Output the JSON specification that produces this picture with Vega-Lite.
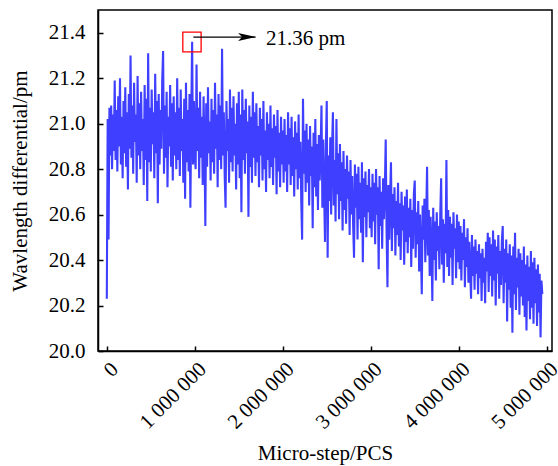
{
  "$schema": "https://vega.github.io/schema/vega-lite/v6.json",
  "width": 454,
  "height": 341,
  "autosize": {"type": "none"},
  "padding": {"left": 98, "top": 10, "right": 6, "bottom": 115},
  "background": "white",
  "config": {
    "font": "Liberation Serif",
    "view": {"stroke": "black", "strokeWidth": 1.5},
    "axis": {
      "grid": false,
      "domainColor": "black",
      "domainWidth": 1.5,
      "tickColor": "black",
      "tickWidth": 1.5,
      "tickSize": -5,
      "labelColor": "black",
      "labelFont": "Liberation Serif",
      "labelFontSize": 21,
      "titleColor": "black",
      "titleFont": "Liberation Serif",
      "titleFontSize": 21,
      "titleFontWeight": "normal",
      "labelOverlap": false,
      "labelFlush": false
    }
  },
  "layer": [
    {
      "data": {"values": [
{"x":0,"y":20.23},{"x":10000,"y":21.02},{"x":20000,"y":20.49},{"x":30000,"y":21.07},{"x":40000,"y":20.86},{"x":50000,"y":21.08},{"x":60000,"y":20.80},{"x":70000,"y":21.04},{"x":80000,"y":20.88},{"x":90000,"y":21.19},
{"x":100000,"y":20.84},{"x":110000,"y":21.06},{"x":120000,"y":20.79},{"x":130000,"y":21.12},{"x":140000,"y":20.90},{"x":150000,"y":21.20},{"x":160000,"y":20.82},{"x":170000,"y":21.03},{"x":180000,"y":20.76},{"x":190000,"y":21.10},
{"x":200000,"y":20.87},{"x":210000,"y":21.16},{"x":220000,"y":20.81},{"x":230000,"y":21.05},{"x":240000,"y":20.71},{"x":250000,"y":21.13},{"x":260000,"y":20.89},{"x":270000,"y":21.30},{"x":280000,"y":20.85},{"x":290000,"y":21.08},
{"x":300000,"y":20.78},{"x":310000,"y":21.18},{"x":320000,"y":20.92},{"x":330000,"y":21.04},{"x":340000,"y":20.74},{"x":350000,"y":21.21},{"x":360000,"y":20.86},{"x":370000,"y":21.09},{"x":380000,"y":20.80},{"x":390000,"y":21.14},
{"x":400000,"y":20.88},{"x":410000,"y":21.02},{"x":420000,"y":20.73},{"x":430000,"y":21.17},{"x":440000,"y":20.84},{"x":450000,"y":21.11},{"x":460000,"y":20.66},{"x":470000,"y":21.31},{"x":480000,"y":20.83},{"x":490000,"y":21.07},
{"x":500000,"y":20.79},{"x":510000,"y":21.15},{"x":520000,"y":20.91},{"x":530000,"y":21.05},{"x":540000,"y":20.76},{"x":550000,"y":21.22},{"x":560000,"y":20.87},{"x":570000,"y":21.10},{"x":580000,"y":20.65},{"x":590000,"y":21.13},
{"x":600000,"y":20.82},{"x":610000,"y":21.06},{"x":620000,"y":20.89},{"x":630000,"y":21.19},{"x":640000,"y":21.32},{"x":650000,"y":20.78},{"x":660000,"y":21.08},{"x":670000,"y":20.85},{"x":680000,"y":21.14},{"x":690000,"y":20.72},
{"x":700000,"y":21.03},{"x":710000,"y":20.90},{"x":720000,"y":21.17},{"x":730000,"y":20.81},{"x":740000,"y":21.09},{"x":750000,"y":20.75},{"x":760000,"y":21.12},{"x":770000,"y":20.86},{"x":780000,"y":21.05},{"x":790000,"y":20.80},
{"x":800000,"y":21.20},{"x":810000,"y":20.84},{"x":820000,"y":21.07},{"x":830000,"y":20.77},{"x":840000,"y":21.15},{"x":850000,"y":20.88},{"x":860000,"y":21.02},{"x":870000,"y":20.74},{"x":880000,"y":21.11},{"x":890000,"y":20.67},
{"x":900000,"y":21.18},{"x":910000,"y":20.83},{"x":920000,"y":21.06},{"x":930000,"y":20.79},{"x":940000,"y":21.13},{"x":950000,"y":20.63},{"x":960000,"y":21.04},{"x":970000,"y":21.36},{"x":980000,"y":20.82},{"x":990000,"y":21.10},
{"x":1000000,"y":20.86},{"x":1010000,"y":20.80},{"x":1020000,"y":21.26},{"x":1030000,"y":20.88},{"x":1040000,"y":21.07},{"x":1050000,"y":20.76},{"x":1060000,"y":21.14},{"x":1070000,"y":20.85},{"x":1080000,"y":21.03},{"x":1090000,"y":20.73},
{"x":1100000,"y":21.12},{"x":1110000,"y":20.90},{"x":1120000,"y":20.55},{"x":1130000,"y":21.09},{"x":1140000,"y":20.81},{"x":1150000,"y":21.16},{"x":1160000,"y":20.87},{"x":1170000,"y":21.01},{"x":1180000,"y":20.75},{"x":1190000,"y":21.11},
{"x":1200000,"y":20.83},{"x":1210000,"y":21.06},{"x":1220000,"y":20.78},{"x":1230000,"y":21.18},{"x":1240000,"y":20.89},{"x":1250000,"y":21.04},{"x":1260000,"y":20.72},{"x":1270000,"y":21.13},{"x":1280000,"y":20.84},{"x":1290000,"y":21.08},
{"x":1300000,"y":20.80},{"x":1310000,"y":21.33},{"x":1320000,"y":20.86},{"x":1330000,"y":21.05},{"x":1340000,"y":20.77},{"x":1350000,"y":20.63},{"x":1360000,"y":21.10},{"x":1370000,"y":20.88},{"x":1380000,"y":21.02},{"x":1390000,"y":20.74},
{"x":1400000,"y":21.15},{"x":1410000,"y":20.83},{"x":1420000,"y":21.07},{"x":1430000,"y":20.79},{"x":1440000,"y":21.12},{"x":1450000,"y":20.86},{"x":1460000,"y":21.00},{"x":1470000,"y":20.71},{"x":1480000,"y":21.09},{"x":1490000,"y":20.82},
{"x":1500000,"y":21.14},{"x":1510000,"y":20.76},{"x":1520000,"y":21.04},{"x":1530000,"y":20.61},{"x":1540000,"y":21.15},{"x":1550000,"y":20.84},{"x":1560000,"y":21.06},{"x":1570000,"y":20.78},{"x":1580000,"y":21.11},{"x":1590000,"y":20.87},
{"x":1600000,"y":21.01},{"x":1610000,"y":20.59},{"x":1620000,"y":21.08},{"x":1630000,"y":20.81},{"x":1640000,"y":21.03},{"x":1650000,"y":20.74},{"x":1660000,"y":21.14},{"x":1670000,"y":20.85},{"x":1680000,"y":21.05},{"x":1690000,"y":20.77},
{"x":1700000,"y":21.09},{"x":1710000,"y":20.83},{"x":1720000,"y":20.99},{"x":1730000,"y":20.72},{"x":1740000,"y":21.07},{"x":1750000,"y":20.86},{"x":1760000,"y":21.02},{"x":1770000,"y":20.75},{"x":1780000,"y":21.10},{"x":1790000,"y":20.80},
{"x":1800000,"y":20.97},{"x":1810000,"y":20.70},{"x":1820000,"y":21.05},{"x":1830000,"y":20.84},{"x":1840000,"y":21.00},{"x":1850000,"y":20.76},{"x":1860000,"y":21.08},{"x":1870000,"y":20.81},{"x":1880000,"y":20.98},{"x":1890000,"y":20.73},
{"x":1900000,"y":21.04},{"x":1910000,"y":20.85},{"x":1920000,"y":20.99},{"x":1930000,"y":20.69},{"x":1940000,"y":21.06},{"x":1950000,"y":20.79},{"x":1960000,"y":20.96},{"x":1970000,"y":20.72},{"x":1980000,"y":21.03},{"x":1990000,"y":20.82},
{"x":2000000,"y":20.97},{"x":2010000,"y":20.74},{"x":2020000,"y":21.02},{"x":2030000,"y":20.79},{"x":2040000,"y":20.95},{"x":2050000,"y":20.70},{"x":2060000,"y":21.05},{"x":2070000,"y":20.82},{"x":2080000,"y":20.98},{"x":2090000,"y":20.73},
{"x":2100000,"y":21.03},{"x":2110000,"y":20.77},{"x":2120000,"y":20.94},{"x":2130000,"y":20.68},{"x":2140000,"y":21.01},{"x":2150000,"y":20.80},{"x":2160000,"y":20.96},{"x":2170000,"y":20.71},{"x":2180000,"y":21.04},{"x":2190000,"y":20.76},
{"x":2200000,"y":20.92},{"x":2210000,"y":20.66},{"x":2220000,"y":20.49},{"x":2230000,"y":21.11},{"x":2240000,"y":20.78},{"x":2250000,"y":20.97},{"x":2260000,"y":20.70},{"x":2270000,"y":21.00},{"x":2280000,"y":20.74},{"x":2290000,"y":20.93},
{"x":2300000,"y":20.64},{"x":2310000,"y":20.99},{"x":2320000,"y":20.77},{"x":2330000,"y":20.90},{"x":2340000,"y":20.54},{"x":2350000,"y":20.96},{"x":2360000,"y":20.72},{"x":2370000,"y":21.02},{"x":2380000,"y":20.68},{"x":2390000,"y":20.91},
{"x":2400000,"y":20.62},{"x":2410000,"y":20.95},{"x":2420000,"y":20.75},{"x":2430000,"y":20.88},{"x":2440000,"y":21.08},{"x":2450000,"y":20.63},{"x":2460000,"y":20.93},{"x":2470000,"y":20.70},{"x":2480000,"y":20.48},{"x":2490000,"y":20.90},
{"x":2500000,"y":21.10},{"x":2510000,"y":20.41},{"x":2520000,"y":20.86},{"x":2530000,"y":20.66},{"x":2540000,"y":20.94},{"x":2550000,"y":20.60},{"x":2560000,"y":20.89},{"x":2570000,"y":21.05},{"x":2580000,"y":20.64},{"x":2590000,"y":20.84},
{"x":2600000,"y":20.57},{"x":2610000,"y":21.02},{"x":2620000,"y":20.69},{"x":2630000,"y":20.87},{"x":2640000,"y":20.58},{"x":2650000,"y":20.91},{"x":2660000,"y":20.66},{"x":2670000,"y":20.83},{"x":2680000,"y":20.53},{"x":2690000,"y":20.88},
{"x":2700000,"y":20.62},{"x":2710000,"y":20.80},{"x":2720000,"y":20.56},{"x":2730000,"y":20.86},{"x":2740000,"y":20.67},{"x":2750000,"y":20.79},{"x":2760000,"y":20.51},{"x":2770000,"y":20.84},{"x":2780000,"y":20.60},{"x":2790000,"y":20.77},
{"x":2800000,"y":20.55},{"x":2810000,"y":20.41},{"x":2820000,"y":20.82},{"x":2830000,"y":20.63},{"x":2840000,"y":20.78},{"x":2850000,"y":20.49},{"x":2860000,"y":20.81},{"x":2870000,"y":20.58},{"x":2880000,"y":20.74},{"x":2890000,"y":20.52},
{"x":2900000,"y":20.83},{"x":2910000,"y":20.39},{"x":2920000,"y":20.76},{"x":2930000,"y":20.59},{"x":2940000,"y":20.79},{"x":2950000,"y":20.50},{"x":2960000,"y":20.73},{"x":2970000,"y":20.61},{"x":2980000,"y":20.80},{"x":2990000,"y":20.54},
{"x":3000000,"y":20.72},{"x":3010000,"y":20.50},{"x":3020000,"y":20.78},{"x":3030000,"y":20.57},{"x":3040000,"y":20.74},{"x":3050000,"y":20.47},{"x":3060000,"y":20.80},{"x":3070000,"y":20.60},{"x":3080000,"y":20.72},{"x":3090000,"y":20.36},
{"x":3100000,"y":20.77},{"x":3110000,"y":20.55},{"x":3120000,"y":20.70},{"x":3130000,"y":20.45},{"x":3140000,"y":20.76},{"x":3150000,"y":20.58},{"x":3160000,"y":20.71},{"x":3170000,"y":20.93},{"x":3180000,"y":20.52},{"x":3190000,"y":20.28},
{"x":3200000,"y":20.73},{"x":3210000,"y":20.49},{"x":3220000,"y":20.68},{"x":3230000,"y":20.83},{"x":3240000,"y":20.44},{"x":3250000,"y":20.69},{"x":3260000,"y":20.54},{"x":3270000,"y":20.72},{"x":3280000,"y":20.42},{"x":3290000,"y":20.66},
{"x":3300000,"y":20.51},{"x":3310000,"y":20.74},{"x":3320000,"y":20.46},{"x":3330000,"y":20.65},{"x":3340000,"y":20.40},{"x":3350000,"y":20.70},{"x":3360000,"y":20.53},{"x":3370000,"y":20.64},{"x":3380000,"y":20.38},{"x":3390000,"y":20.68},
{"x":3400000,"y":20.48},{"x":3410000,"y":20.71},{"x":3420000,"y":20.43},{"x":3430000,"y":20.63},{"x":3440000,"y":20.50},{"x":3450000,"y":20.67},{"x":3460000,"y":20.37},{"x":3470000,"y":20.62},{"x":3480000,"y":20.45},{"x":3490000,"y":20.69},
{"x":3500000,"y":20.75},{"x":3510000,"y":20.41},{"x":3520000,"y":20.61},{"x":3530000,"y":20.47},{"x":3540000,"y":20.66},{"x":3550000,"y":20.35},{"x":3560000,"y":20.60},{"x":3570000,"y":20.44},{"x":3580000,"y":20.25},{"x":3590000,"y":20.64},
{"x":3600000,"y":20.49},{"x":3610000,"y":20.67},{"x":3620000,"y":20.39},{"x":3630000,"y":20.58},{"x":3640000,"y":20.81},{"x":3650000,"y":20.42},{"x":3660000,"y":20.62},{"x":3670000,"y":20.33},{"x":3680000,"y":20.59},{"x":3690000,"y":20.46},
{"x":3700000,"y":20.22},{"x":3710000,"y":20.63},{"x":3720000,"y":20.40},{"x":3730000,"y":20.57},{"x":3740000,"y":20.31},{"x":3750000,"y":20.61},{"x":3760000,"y":20.44},{"x":3770000,"y":20.55},{"x":3780000,"y":20.36},{"x":3790000,"y":20.60},
{"x":3800000,"y":20.76},{"x":3810000,"y":20.38},{"x":3820000,"y":20.58},{"x":3830000,"y":20.30},{"x":3840000,"y":20.56},{"x":3850000,"y":20.43},{"x":3860000,"y":20.84},{"x":3870000,"y":20.37},{"x":3880000,"y":20.62},{"x":3890000,"y":20.33},
{"x":3900000,"y":20.59},{"x":3910000,"y":20.41},{"x":3920000,"y":20.56},{"x":3930000,"y":20.29},{"x":3940000,"y":20.61},{"x":3950000,"y":20.45},{"x":3960000,"y":20.54},{"x":3970000,"y":20.32},{"x":3980000,"y":20.60},{"x":3990000,"y":20.39},
{"x":4000000,"y":20.57},{"x":4010000,"y":20.36},{"x":4020000,"y":20.55},{"x":4030000,"y":20.31},{"x":4040000,"y":20.52},{"x":4050000,"y":20.40},{"x":4060000,"y":20.58},{"x":4070000,"y":20.28},{"x":4080000,"y":20.50},{"x":4090000,"y":20.37},
{"x":4100000,"y":20.54},{"x":4110000,"y":20.30},{"x":4120000,"y":20.48},{"x":4130000,"y":20.35},{"x":4140000,"y":20.23},{"x":4150000,"y":20.51},{"x":4160000,"y":20.33},{"x":4170000,"y":20.46},{"x":4180000,"y":20.27},{"x":4190000,"y":20.49},
{"x":4200000,"y":20.34},{"x":4210000,"y":20.44},{"x":4220000,"y":20.25},{"x":4230000,"y":20.47},{"x":4240000,"y":20.32},{"x":4250000,"y":20.43},{"x":4260000,"y":20.22},{"x":4270000,"y":20.45},{"x":4280000,"y":20.30},{"x":4290000,"y":20.41},
{"x":4300000,"y":20.21},{"x":4310000,"y":20.48},{"x":4320000,"y":20.35},{"x":4330000,"y":20.52},{"x":4340000,"y":20.26},{"x":4350000,"y":20.50},{"x":4360000,"y":20.33},{"x":4370000,"y":20.47},{"x":4380000,"y":20.24},{"x":4390000,"y":20.53},
{"x":4400000,"y":20.31},{"x":4410000,"y":20.49},{"x":4420000,"y":20.20},{"x":4430000,"y":20.46},{"x":4440000,"y":20.34},{"x":4450000,"y":20.51},{"x":4460000,"y":20.23},{"x":4470000,"y":20.44},{"x":4480000,"y":20.29},{"x":4490000,"y":20.48},
{"x":4500000,"y":20.55},{"x":4510000,"y":20.21},{"x":4520000,"y":20.45},{"x":4530000,"y":20.30},{"x":4540000,"y":20.49},{"x":4550000,"y":20.13},{"x":4560000,"y":20.43},{"x":4570000,"y":20.27},{"x":4580000,"y":20.47},{"x":4590000,"y":20.19},
{"x":4600000,"y":20.42},{"x":4610000,"y":20.08},{"x":4620000,"y":20.46},{"x":4630000,"y":20.25},{"x":4640000,"y":20.52},{"x":4650000,"y":20.18},{"x":4660000,"y":20.41},{"x":4670000,"y":20.28},{"x":4680000,"y":20.45},{"x":4690000,"y":20.16},
{"x":4700000,"y":20.43},{"x":4710000,"y":20.24},{"x":4720000,"y":20.40},{"x":4730000,"y":20.20},{"x":4740000,"y":20.46},{"x":4750000,"y":20.15},{"x":4760000,"y":20.38},{"x":4770000,"y":20.09},{"x":4780000,"y":20.42},{"x":4790000,"y":20.22},
{"x":4800000,"y":20.37},{"x":4810000,"y":20.14},{"x":4820000,"y":20.44},{"x":4830000,"y":20.19},{"x":4840000,"y":20.39},{"x":4850000,"y":20.12},{"x":4860000,"y":20.41},{"x":4870000,"y":20.21},{"x":4880000,"y":20.36},{"x":4890000,"y":20.11},
{"x":4900000,"y":20.38},{"x":4910000,"y":20.17},{"x":4920000,"y":20.34},{"x":4930000,"y":20.06},{"x":4940000,"y":20.31},{"x":4950000,"y":20.25}
      ]},
      "mark": {"type": "line", "color": "#3f3fff", "strokeWidth": 2.1, "clip": true},
      "encoding": {
        "x": {"field": "x", "type": "quantitative", "title": "Micro-step/PCS",
          "scale": {"domain": [-100000, 5060000], "nice": false, "zero": false},
          "axis": {"values": [0, 1000000, 2000000, 3000000, 4000000, 5000000],
            "labelExpr": "datum.value == 0 ? '0' : format(datum.value / 1000000, 'd') + ' 000 000'",
            "labelAngle": -45, "labelAlign": "right", "labelBaseline": "top", "labelPadding": 12, "titlePadding": 10}},
        "y": {"field": "y", "type": "quantitative", "title": "Wavlength differential/pm",
          "scale": {"domain": [20, 21.5], "nice": false, "zero": false},
          "axis": {"values": [20, 20.2, 20.4, 20.6, 20.8, 21, 21.2, 21.4], "format": ".1f", "labelPadding": 18, "titlePadding": 18}}
      }
    },
    {
      "data": {"values": [{"x": 864000, "x2": 1072000, "y": 21.316, "y2": 21.403}]},
      "mark": {"type": "rect", "fillOpacity": 0, "stroke": "#ff0000", "strokeWidth": 1.3},
      "encoding": {
        "x": {"field": "x", "type": "quantitative", "title": "Micro-step/PCS", "scale": {"domain": [-100000, 5060000], "nice": false, "zero": false}},
        "x2": {"field": "x2"},
        "y": {"field": "y", "type": "quantitative", "title": "Wavlength differential/pm", "scale": {"domain": [20, 21.5], "nice": false, "zero": false}},
        "y2": {"field": "y2"}
      }
    },
    {
      "data": {"values": [{"x": 984000, "x2": 1690000, "y": 21.381}]},
      "mark": {"type": "rule", "color": "black", "strokeWidth": 1.3},
      "encoding": {
        "x": {"field": "x", "type": "quantitative", "title": "Micro-step/PCS", "scale": {"domain": [-100000, 5060000], "nice": false, "zero": false}},
        "x2": {"field": "x2"},
        "y": {"field": "y", "type": "quantitative", "title": "Wavlength differential/pm", "scale": {"domain": [20, 21.5], "nice": false, "zero": false}}
      }
    },
    {
      "data": {"values": [{"x": 1594000, "y": 21.381}]},
      "mark": {"type": "point", "shape": "M1,0L-1,-0.45L-0.55,0L-1,0.45Z", "size": 324, "filled": true, "color": "black", "opacity": 1},
      "encoding": {
        "x": {"field": "x", "type": "quantitative", "title": "Micro-step/PCS", "scale": {"domain": [-100000, 5060000], "nice": false, "zero": false}},
        "y": {"field": "y", "type": "quantitative", "title": "Wavlength differential/pm", "scale": {"domain": [20, 21.5], "nice": false, "zero": false}}
      }
    },
    {
      "data": {"values": [{"x": 1810000, "y": 21.344, "label": "21.36 pm"}]},
      "mark": {"type": "text", "align": "left", "baseline": "alphabetic", "font": "Liberation Serif", "fontSize": 21, "color": "black"},
      "encoding": {
        "x": {"field": "x", "type": "quantitative", "title": "Micro-step/PCS", "scale": {"domain": [-100000, 5060000], "nice": false, "zero": false}},
        "y": {"field": "y", "type": "quantitative", "title": "Wavlength differential/pm", "scale": {"domain": [20, 21.5], "nice": false, "zero": false}},
        "text": {"field": "label"}
      }
    }
  ]
}
